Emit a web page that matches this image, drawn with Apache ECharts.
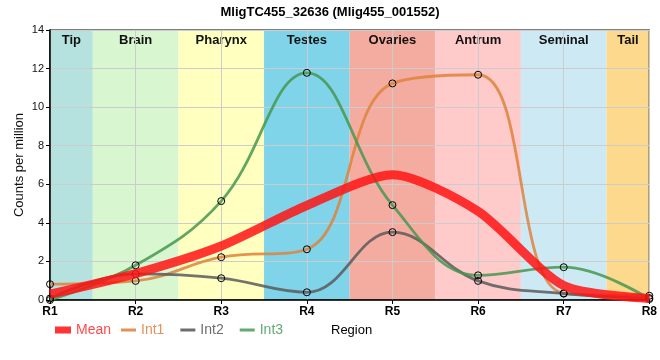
<!DOCTYPE html>
<html><head><meta charset="utf-8">
<script src="https://cdn.jsdelivr.net/npm/echarts@6/dist/echarts.min.js"></script>
<style>html,body{margin:0;padding:0;background:#fff}#c{width:660px;height:360px}</style>
</head><body><div id="c"></div>
<script>
const xTicks = ['R1','R2','R3','R4','R5','R6','R7','R8'];
const xPos = [1,2,3,4,5,6,7,8];
const bandNames = ['Tip','Brain','Pharynx','Testes','Ovaries','Antrum','Seminal','Tail'];
const bandColors = ['#b5e2df','#d8f6d0','#ffffc0','#80d4ea','#f4aca0','#ffcaca','#cdeaf4','#fcd98c'];
const yTicks = [0,2,4,6,8,10,12,14];
const meanVals = [0.3, 1.37, 2.8, 4.9, 6.5, 4.6, 0.75, 0.08];
const int1Vals = [0.82, 0.99, 2.22, 2.63, 11.23, 11.68, 0.35, 0.22];
const int2Vals = [0.08, 1.35, 1.13, 0.40, 3.52, 0.99, 0.33, 0.1];
const int3Vals = [0.0, 1.80, 5.13, 11.78, 4.92, 1.28, 1.70, 0.05];

const FONT = "'Liberation Sans', Arial, sans-serif";
const colMean = 'rgba(255,20,20,0.85)';
const colInt1 = 'rgba(222,130,60,0.85)';
const colInt2 = 'rgba(90,90,90,0.85)';
const colInt3 = 'rgba(70,150,80,0.85)';

const pts = v => xPos.map((x,i)=>[x, v[i]]);
const bands = bandNames.map((n,i)=>[
  {name:n, xAxis: Math.max(xPos[0], xPos[i]-0.5), itemStyle:{color:bandColors[i]}},
  {xAxis: Math.min(xPos[xPos.length-1], xPos[i]+0.5)}
]);

const marker = {color:'rgba(255,255,255,0)', borderColor:'#000', borderWidth:1};
function intSeries(name, vals, col){
  return {name, type:'line', data:pts(vals), smooth:0.4,
    symbol:'circle', symbolSize:7, showSymbol:true, itemStyle:marker,
    lineStyle:{color:col, width:2.8}, z:3, emphasis:{disabled:true}};
}
const legIcon = c => ({color:c, borderWidth:0, borderColor:'transparent'});

const chart = echarts.init(document.getElementById('c'), null, {renderer:'canvas'});
chart.setOption({
  animation:false,
  textStyle:{fontFamily:FONT},
  title:{text:'MligTC455_32636 (Mlig455_001552)', left:'center', top:1,
    textStyle:{fontSize:13, fontWeight:'bold', color:'#000', fontFamily:FONT}},
  grid:{left:50, right:10, top:30, bottom:60, show:true, borderColor:'#000', borderWidth:1.2, backgroundColor:'transparent'},
  xAxis:{type:'value', min:1, max:8, interval:1,
    axisLine:{lineStyle:{color:'#000', width:1.5}},
    axisTick:{show:true, length:4, lineStyle:{color:'#000'}},
    axisLabel:{formatter:v=>xTicks[xPos.indexOf(v)]||'', fontWeight:'bold', fontSize:12, color:'#000', margin:6, fontFamily:FONT},
    splitLine:{show:true, lineStyle:{color:'#cccccc', width:1}}},
  yAxis:{type:'value', min:yTicks[0], max:yTicks[yTicks.length-1], interval:2,
    name:'Counts per million', nameLocation:'middle', nameGap:24, nameMoveOverlap:false,
    nameTextStyle:{fontSize:13, color:'#111', fontFamily:FONT},
    axisLine:{show:true, lineStyle:{color:'#000', width:1.5}},
    axisTick:{show:true, length:4, lineStyle:{color:'#000'}},
    axisLabel:{fontSize:11, color:'#111', margin:6, fontFamily:FONT},
    splitLine:{show:true, lineStyle:{color:'#cccccc', width:1}}},
  legend:[
    {data:[{name:'Mean', icon:'rect', itemStyle:legIcon('rgba(255,30,30,0.9)'), textStyle:{color:'#ff4a4a'}}],
      left:55, top:323, padding:0, itemWidth:16, itemHeight:7, itemGap:10,
      textStyle:{fontSize:14, fontFamily:FONT}, selectedMode:false},
    {data:[
      {name:'Int1', icon:'rect', itemStyle:legIcon('#e0925a'), textStyle:{color:'#e0925a'}},
      {name:'Int2', icon:'rect', itemStyle:legIcon('#6e6e6e'), textStyle:{color:'#6e6e6e'}},
      {name:'Int3', icon:'rect', itemStyle:legIcon('#62aa72'), textStyle:{color:'#62aa72'}}],
      left:121, top:323, padding:0, itemWidth:15, itemHeight:3, itemGap:16,
      textStyle:{fontSize:14, fontFamily:FONT}, selectedMode:false}
  ],
  graphic:[{type:'text', left:331, top:324, style:{text:'Region', fontSize:13, fill:'#000', font:"13px "+FONT}}],
  series:[
    {name:'bands', type:'line', data:[], z:0,
      markArea:{silent:true, z:-5, data:bands,
        label:{show:true, position:'insideTop', distance:4, fontWeight:'bold', fontSize:13, color:'#111', fontFamily:FONT}}},
    {name:'Mean', type:'line', data:pts(meanVals), smooth:0.25, showSymbol:false, symbol:'none',
      lineStyle:{color:colMean, width:9}, z:4, emphasis:{disabled:true}},
    intSeries('Int1', int1Vals, colInt1),
    intSeries('Int2', int2Vals, colInt2),
    intSeries('Int3', int3Vals, colInt3)
  ]
});
</script></body></html>
